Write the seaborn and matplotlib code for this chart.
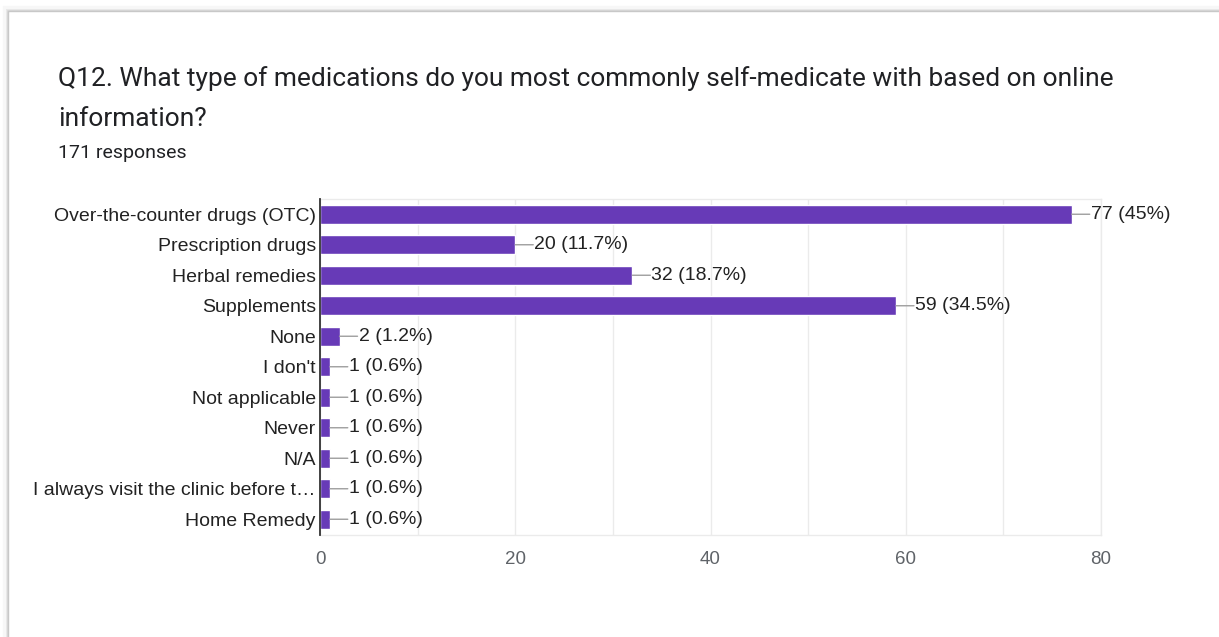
import matplotlib
matplotlib.use("Agg")
import matplotlib.pyplot as plt
from matplotlib.patches import Rectangle
import matplotlib.transforms as mtransforms
import seaborn as sns
import pandas as pd

# Survey answers and their response counts
categories = [
    "Over-the-counter drugs (OTC)",
    "Prescription drugs",
    "Herbal remedies",
    "Supplements",
    "None",
    "I don't",
    "Not applicable",
    "Never",
    "N/A",
    "I always visit the clinic before t\u2026",
    "Home Remedy",
]
counts = [77, 20, 32, 59, 2, 1, 1, 1, 1, 1, 1]
total_responses = 171
x_ticks = [0, 20, 40, 60, 80]

title_text = ("Q12. What type of medications do you most commonly self-medicate with based on online\n"
              "information?")
subtitle_text = f"{total_responses} responses"

bar_color = "#673AB7"

df = pd.DataFrame({"answer": categories, "count": counts})

sns.set_theme(style="white")
plt.rcParams["font.family"] = ["Liberation Sans", "DejaVu Sans"]

fig = plt.figure(figsize=(12.19, 6.37), dpi=100)
fig.patch.set_facecolor("white")

# Card outline with a soft shadow
for i, a in enumerate([0.10, 0.06, 0.03]):
    fig.add_artist(Rectangle((8 / 1219 - i * 0.0012, -0.1), 1.2, (637 - 11) / 637 + 0.1 + i * 0.002,
                             transform=fig.transFigure, fill=False,
                             edgecolor="black", alpha=a, linewidth=1.2 + i))
fig.add_artist(Rectangle((8 / 1219, -0.1), 1.2, (637 - 11) / 637 + 0.1,
                         transform=fig.transFigure, fill=False,
                         edgecolor="#c8c8c8", linewidth=1.0))

ax = fig.add_axes([320 / 1219, 1 - 534.5 / 637, (1101 - 320) / 1219, (534.5 - 199) / 637])

sns.barplot(data=df, x="count", y="answer", orient="h", color=bar_color,
            width=0.62, ax=ax, saturation=1)

ax.set_xlim(0, 80)
ax.set_ylim(len(categories) - 0.5, -0.5)
ax.set_xticks(x_ticks)
ax.set_xticks(range(0, 81, 10), minor=True)
ax.grid(True, axis="x", which="both", color="#ebebeb", linewidth=1.0)
ax.set_axisbelow(True)
ax.set_xlabel("")
ax.set_ylabel("")

for side in ["top", "right", "bottom"]:
    ax.spines[side].set_color("#ebebeb")
    ax.spines[side].set_linewidth(1.0)
ax.spines["left"].set_color("#333333")
ax.spines["left"].set_linewidth(1.3)
ax.spines["left"].set_zorder(5)

ax.tick_params(axis="x", which="both", length=0, pad=12, labelsize=13.5, labelcolor="#5f6368")
ax.tick_params(axis="y", length=0, pad=3, labelsize=14, labelcolor="#222222")

# Value labels with short leader lines
line_tr = mtransforms.offset_copy(ax.transData, fig=fig, x=18, y=0, units="dots")
text_tr = mtransforms.offset_copy(ax.transData, fig=fig, x=19, y=0, units="dots")
for i, v in enumerate(counts):
    pct = round(v / total_responses * 100, 1)
    pct_txt = f"{pct:g}"
    ax.annotate("", xy=(v, i), xycoords="data",
                xytext=(v, i), textcoords=line_tr,
                arrowprops=dict(arrowstyle="-", color="#9e9e9e", lw=1.0,
                                shrinkA=0, shrinkB=0))
    ax.text(v, i, f"{v} ({pct_txt}%)", transform=text_tr, va="center", ha="left",
            fontsize=14, color="#222222")

fig.text(58 / 1219, 1 - 66 / 637, title_text, fontsize=19, color="#202124",
         family=["Roboto", "DejaVu Sans"], va="top", ha="left", linespacing=1.85)
fig.text(58 / 1219, 1 - 153 / 637, subtitle_text, fontsize=14, color="#202124",
         family=["Roboto", "DejaVu Sans"], va="center", ha="left")

fig.savefig("out.png", dpi=100, facecolor="white")
